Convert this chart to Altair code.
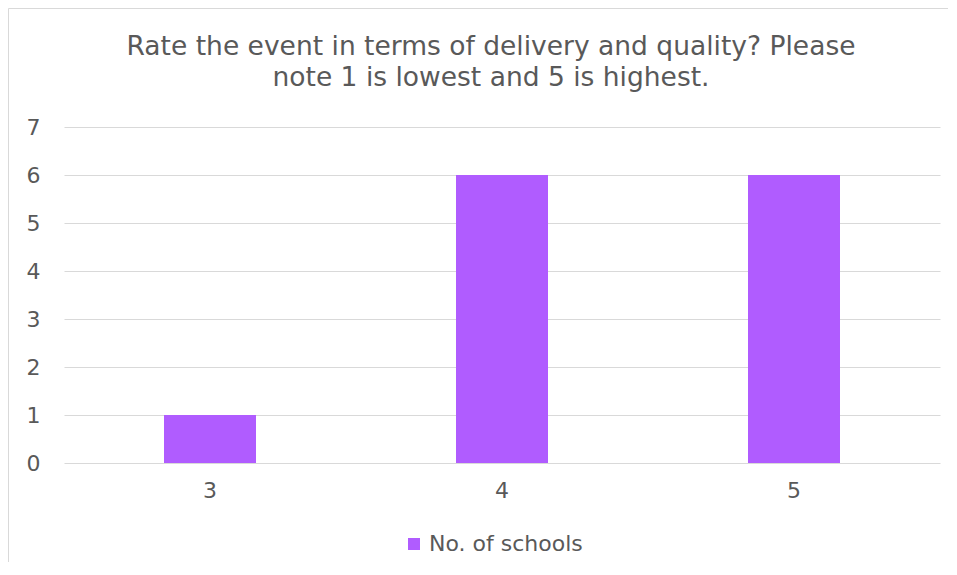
import altair as alt
import pandas as pd

ratings = ["3", "4", "5"]
schools = [1, 6, 6]
series_name = "No. of schools"

df = pd.DataFrame({"Rating": ratings, "Schools": schools, "Series": [series_name] * len(ratings)})

FONT = "DejaVu Sans"
TXT = "#595959"
GRID = "#d9d9d9"
LBL = 22

bars = alt.Chart(df).mark_bar(size=92, color="#B05CFF").encode(
    x=alt.X("Rating:N", sort=ratings,
            scale=alt.Scale(paddingInner=0, paddingOuter=0),
            axis=alt.Axis(title=None, labelAngle=0, ticks=False, domain=False, grid=False,
                          labelPadding=17, labelFontSize=LBL, labelColor=TXT, labelFont=FONT)),
    y=alt.Y("Schools:Q", scale=alt.Scale(domain=[0, 7], nice=False),
            axis=alt.Axis(title=None, values=list(range(0, 8)), ticks=False, domain=False,
                          labelPadding=24, labelFontSize=LBL, labelColor=TXT, labelFont=FONT,
                          gridColor=GRID, gridWidth=1)),
    fill=alt.Fill("Series:N", scale=alt.Scale(range=["#B05CFF"]),
                  legend=alt.Legend(title=None, orient="none", legendX=339, legendY=406,
                                    symbolType="square", symbolSize=144, symbolStrokeWidth=0,
                                    labelFontSize=LBL, labelColor=TXT, labelFont=FONT, labelOffset=4)),
)

frame_data = alt.Data(values=[{}])
top_line = alt.Chart(frame_data).mark_rule(stroke=GRID, strokeWidth=1).encode(
    x=alt.value(-55.5), x2=alt.value(884), y=alt.value(-118.5)
)
left_line = alt.Chart(frame_data).mark_rule(stroke=GRID, strokeWidth=1).encode(
    x=alt.value(-55.5), y=alt.value(-118.5), y2=alt.value(435)
)

chart = alt.layer(top_line, left_line, bars).properties(
    width=876, height=336,
    background="white",
    title=alt.Title(["Rate the event in terms of delivery and quality? Please",
                     "note 1 is lowest and 5 is highest."],
                    font=FONT, fontSize=26.5, fontWeight="normal", color=TXT, frame="group",
                    anchor="middle", dx=-11, offset=0, dy=83, lineHeight=31),
    padding={"left": 56, "top": 119, "right": 9, "bottom": 100},
    autosize=alt.AutoSizeParams(type="none"),
).configure_view(stroke=None, strokeWidth=0)

chart.save("out.html", embed_options={"renderer": "svg", "actions": False})
